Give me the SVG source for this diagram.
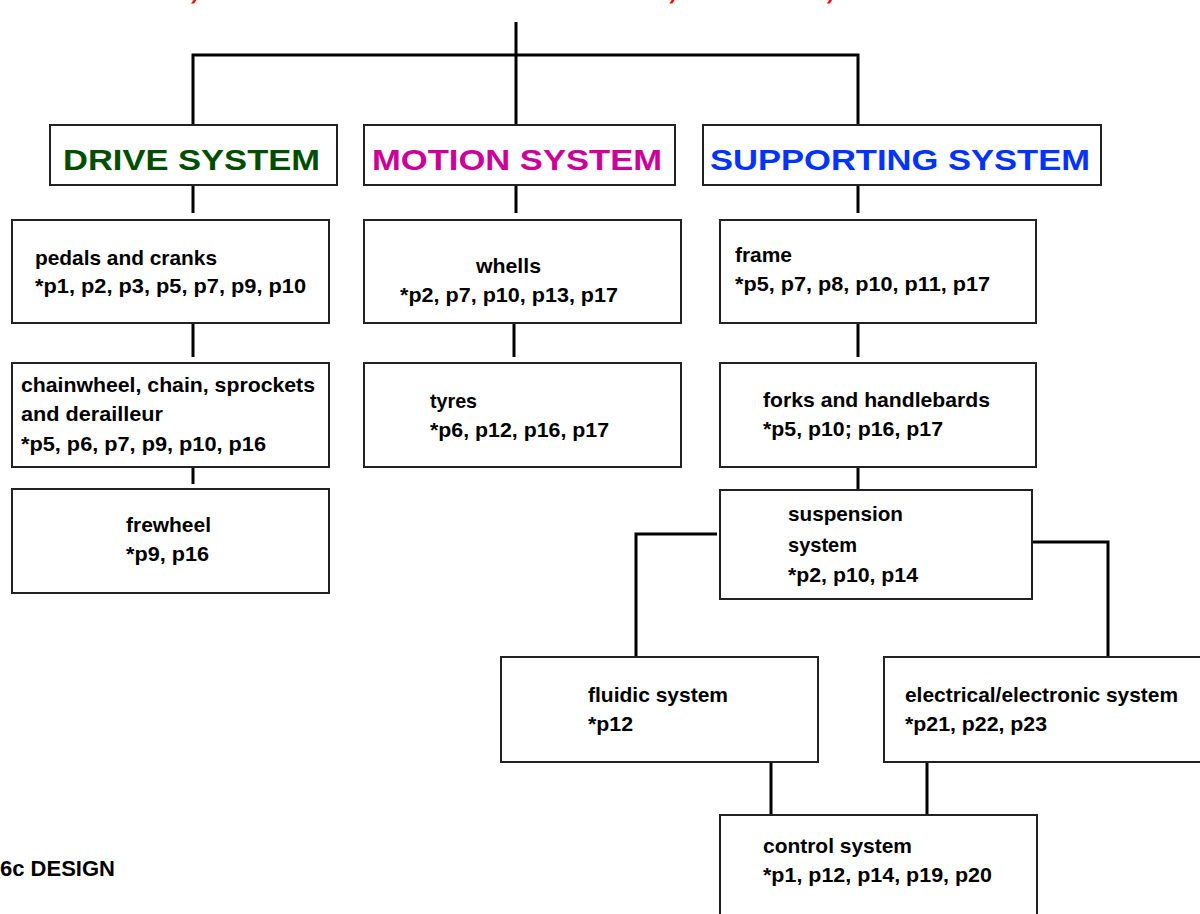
<svg xmlns="http://www.w3.org/2000/svg" width="1200" height="914" viewBox="0 0 1200 914">
<style>
.bx{fill:#fff;stroke:#222;stroke-width:2}
.hd{font-family:"Liberation Sans",Arial,sans-serif;font-weight:bold;font-size:30px}
.t{font-family:"Liberation Sans Narrow","Liberation Sans",Arial,sans-serif;font-weight:bold;font-size:21px;fill:#000}
.c{fill:none;stroke:#000;stroke-width:3}
</style>
<rect width="1200" height="914" fill="#fff"/>
<text x="-44" y="-2" font-family="Liberation Sans,Arial,sans-serif" font-weight="bold" font-style="italic" font-size="35" fill="#ff0000">MECHANICAL, ELECTRICAL/ELECTRONIC, FLUIDIC, CONTROL SYSTEMS</text>
<g id="connectors">
<path class="c" d="M516 22V55M193 124V55H858V124M516 55V124"/>
<path class="c" d="M193 185V213M516 185V213M858 185V213"/>
<path class="c" d="M193 323V357M514 323V357M858 323V357"/>
<path class="c" d="M193 467V484M858 467V489"/>
<path class="c" d="M717 534H636V657M1032 542H1108V657"/>
<path class="c" d="M771 762V815M927 762V815"/>
</g>
<g id="drive">
<rect class="bx" x="50" y="125" width="287" height="60"/>
<text class="hd" x="63" y="170" fill="#004d00" textLength="257" lengthAdjust="spacingAndGlyphs">DRIVE SYSTEM</text>
</g>
<g id="motion">
<rect class="bx" x="364" y="125" width="311" height="60"/>
<text class="hd" x="372" y="170" fill="#cc0099" textLength="290" lengthAdjust="spacingAndGlyphs">MOTION SYSTEM</text>
</g>
<g id="supporting">
<rect class="bx" x="703" y="125" width="398" height="60"/>
<text class="hd" x="710" y="170" fill="#0033ff" textLength="380" lengthAdjust="spacingAndGlyphs">SUPPORTING SYSTEM</text>
</g>
<g id="pedals">
<rect class="bx" x="12" y="220" width="317" height="103"/>
<text class="t" x="35" y="265" textLength="182" lengthAdjust="spacingAndGlyphs">pedals and cranks</text>
<text class="t" x="35" y="293" textLength="271" lengthAdjust="spacingAndGlyphs">*p1, p2, p3, p5, p7, p9, p10</text>
</g>
<g id="whells">
<rect class="bx" x="364" y="220" width="317" height="103"/>
<text class="t" x="476" y="273" textLength="65" lengthAdjust="spacingAndGlyphs">whells</text>
<text class="t" x="400" y="302" textLength="218" lengthAdjust="spacingAndGlyphs">*p2, p7, p10, p13, p17</text>
</g>
<g id="frame">
<rect class="bx" x="720" y="220" width="316" height="103"/>
<text class="t" x="735" y="262" textLength="57" lengthAdjust="spacingAndGlyphs">frame</text>
<text class="t" x="735" y="291" textLength="255" lengthAdjust="spacingAndGlyphs">*p5, p7, p8, p10, p11, p17</text>
</g>
<g id="chainwheel">
<rect class="bx" x="12" y="363" width="317" height="104"/>
<text class="t" x="21" y="392" textLength="294" lengthAdjust="spacingAndGlyphs">chainwheel, chain, sprockets</text>
<text class="t" x="21" y="421" textLength="142" lengthAdjust="spacingAndGlyphs">and derailleur</text>
<text class="t" x="21" y="451" textLength="245" lengthAdjust="spacingAndGlyphs">*p5, p6, p7, p9, p10, p16</text>
</g>
<g id="tyres">
<rect class="bx" x="364" y="363" width="317" height="104"/>
<text class="t" x="430" y="408" textLength="47" lengthAdjust="spacingAndGlyphs">tyres</text>
<text class="t" x="430" y="437" textLength="179" lengthAdjust="spacingAndGlyphs">*p6, p12, p16, p17</text>
</g>
<g id="forks">
<rect class="bx" x="720" y="363" width="316" height="104"/>
<text class="t" x="763" y="407" textLength="227" lengthAdjust="spacingAndGlyphs">forks and handlebards</text>
<text class="t" x="763" y="436" textLength="180" lengthAdjust="spacingAndGlyphs">*p5, p10; p16, p17</text>
</g>
<g id="frewheel">
<rect class="bx" x="12" y="489" width="317" height="104"/>
<text class="t" x="126" y="532" textLength="85" lengthAdjust="spacingAndGlyphs">frewheel</text>
<text class="t" x="126" y="561" textLength="83" lengthAdjust="spacingAndGlyphs">*p9, p16</text>
</g>
<g id="suspension">
<rect class="bx" x="720" y="490" width="312" height="109"/>
<text class="t" x="788" y="521" textLength="115" lengthAdjust="spacingAndGlyphs">suspension</text>
<text class="t" x="788" y="552" textLength="69" lengthAdjust="spacingAndGlyphs">system</text>
<text class="t" x="788" y="582" textLength="130" lengthAdjust="spacingAndGlyphs">*p2, p10, p14</text>
</g>
<g id="fluidic">
<rect class="bx" x="501" y="657" width="317" height="105"/>
<text class="t" x="588" y="702" textLength="140" lengthAdjust="spacingAndGlyphs">fluidic system</text>
<text class="t" x="588" y="731" textLength="45" lengthAdjust="spacingAndGlyphs">*p12</text>
</g>
<g id="electrical">
<rect class="bx" x="884" y="657" width="320" height="105"/>
<text class="t" x="905" y="702" textLength="273" lengthAdjust="spacingAndGlyphs">electrical/electronic system</text>
<text class="t" x="905" y="731" textLength="142" lengthAdjust="spacingAndGlyphs">*p21, p22, p23</text>
</g>
<g id="control">
<rect class="bx" x="720" y="815" width="317" height="110"/>
<text class="t" x="763" y="853" textLength="149" lengthAdjust="spacingAndGlyphs">control system</text>
<text class="t" x="763" y="882" textLength="229" lengthAdjust="spacingAndGlyphs">*p1, p12, p14, p19, p20</text>
</g>
<text x="0" y="876" font-family="Liberation Sans,Arial,sans-serif" font-weight="bold" font-size="22" fill="#000">6c DESIGN</text>
</svg>
